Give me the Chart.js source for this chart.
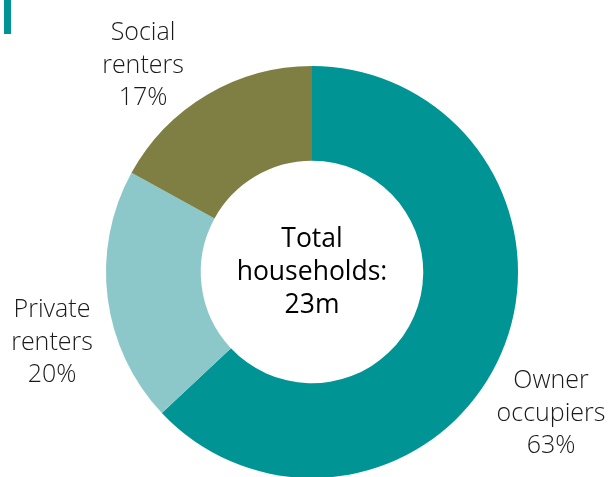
<!DOCTYPE html>
<html>
<head>
<meta charset="utf-8">
<script src="https://cdn.jsdelivr.net/npm/chart.js@4/dist/chart.umd.min.js"></script>
<style>
  html, body { margin: 0; padding: 0; background: #fff; }
  #wrap { position: relative; width: 611px; height: 477px; overflow: hidden; }
  #bar { position: absolute; left: 4px; top: 0; width: 7px; height: 34px; background: #009494; }
  canvas { position: absolute; left: 0; top: 0; }
</style>
</head>
<body>
<div id="wrap">
  <div id="bar"></div>
  <canvas id="chart" width="611" height="480"></canvas>
</div>
<script>
var categories = ['Owner occupiers', 'Private renters', 'Social renters'];
var shares = [63, 20, 17];
var colours = ['#009494', '#8cc8ca', '#7f7f43'];
var centreText = ['Total', 'households:', '23m'];

// where each label block sits (centre x, first line y)
var labelSpots = [
    { x: 551, y: 381 },
    { x: 52, y: 310 },
    { x: 143, y: 33 }
];

var labelPlugin = {
    id: 'labels',
    afterDraw: function(chart) {
        var ctx = chart.ctx;
        ctx.save();
        ctx.textAlign = 'center';
        ctx.textBaseline = 'middle';
        ctx.font = '300 25px "Open Sans", "Noto Sans", sans-serif';
        ctx.fillStyle = '#1a1a1a';
        categories.forEach(function(cat, i) {
            var words = cat.split(' ');
            var lines = [words[0], words.slice(1).join(' '), shares[i] + '%'];
            var p = labelSpots[i];
            lines.forEach(function(line, j) {
                ctx.fillText(line, p.x, p.y + j * 32.5);
            });
        });
        var meta = chart.getDatasetMeta(0).data[0];
        ctx.font = '500 26.5px "Open Sans", "Noto Sans", sans-serif';
        ctx.fillStyle = '#000';
        centreText.forEach(function(line, j) {
            ctx.fillText(line, meta.x, meta.y - 33 + j * 33);
        });
        ctx.restore();
    }
};

new Chart(document.getElementById('chart').getContext('2d'), {
    type: 'doughnut',
    data: {
        labels: categories,
        datasets: [{
            data: shares,
            backgroundColor: colours,
            borderWidth: 0
        }]
    },
    options: {
        responsive: false,
        animation: false,
        cutout: '54%',
        layout: { padding: { left: 106, right: 93, top: 66, bottom: 2 } },
        plugins: { legend: { display: false }, tooltip: { enabled: false } }
    },
    plugins: [labelPlugin]
});
</script>
</body>
</html>
